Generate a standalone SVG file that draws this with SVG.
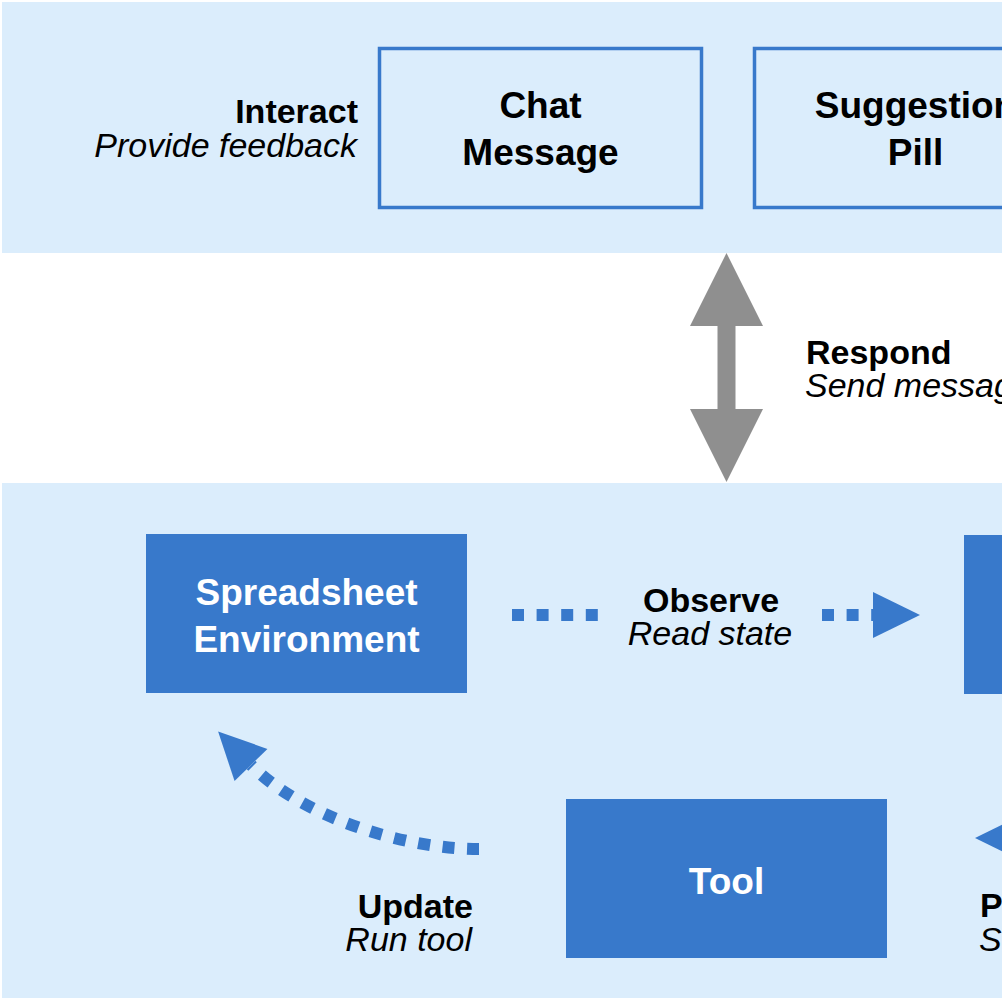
<svg xmlns="http://www.w3.org/2000/svg" width="1002" height="1002" viewBox="0 0 1002 1002">
<style>
.panel{fill:#dbedfc}
.outline{fill:#dbedfc;stroke:#3879cb;stroke-width:3.5}
.solid{fill:#3879cb}
.nl{font-family:"Liberation Sans",Arial,sans-serif;font-weight:bold;font-size:37px;text-anchor:middle;fill:#000}
.nw{fill:#fff}
.eb{font-family:"Liberation Sans",Arial,sans-serif;font-weight:bold;font-size:34px;fill:#000}
.ei{font-family:"Liberation Sans",Arial,sans-serif;font-style:italic;font-size:34px;fill:#000}
.dot{fill:none;stroke:#3879cb;stroke-width:12;stroke-dasharray:12 12.6}
</style>
<defs>
<marker id="head" markerUnits="userSpaceOnUse" markerWidth="48" markerHeight="48" refX="0" refY="23" orient="auto" overflow="visible">
<path d="M0,0 L47,23 L0,46 Z" fill="#3879cb"/>
</marker>
</defs>
<rect width="1002" height="1002" fill="#fff"/>
<g id="panel-top"><rect class="panel" x="2" y="2" width="1000" height="251"/></g>
<g id="panel-bottom"><rect class="panel" x="2" y="483" width="1000" height="515"/></g>

<g id="chat-message">
<rect class="outline" x="379.5" y="48.5" width="322" height="159"/>
<text class="nl" x="540.5" y="118">Chat</text>
<text class="nl" x="540.5" y="165">Message</text>
</g>
<g id="suggestion-pill">
<rect class="outline" x="754.5" y="48.5" width="322" height="159"/>
<text class="nl" x="915.5" y="118">Suggestion</text>
<text class="nl" x="915.5" y="165">Pill</text>
</g>
<g id="spreadsheet-environment">
<rect class="solid" x="146" y="534" width="321" height="159"/>
<text class="nl nw" x="306.5" y="605">Spreadsheet</text>
<text class="nl nw" x="306.5" y="652">Environment</text>
</g>
<g id="tool">
<rect class="solid" x="566" y="799" width="321" height="159"/>
<text class="nl nw" x="726.5" y="894">Tool</text>
</g>
<g id="right-node">
<rect class="solid" x="964" y="535" width="321" height="159"/>
</g>

<g id="connectors">
<g id="interact-label">
<text class="eb" x="358" y="123" text-anchor="end">Interact</text>
<text class="ei" x="357" y="157" text-anchor="end">Provide feedback</text>
</g>
<g id="respond">
<polygon points="726.5,253 763,326 735.5,326 735.5,409 763,409 726.5,482 690,409 717.5,409 717.5,326 690,326" fill="#8f8f8f"/>
<text class="eb" x="806" y="364">Respond</text>
<text class="ei" x="805" y="397">Send message</text>
</g>
<g id="observe">
<path class="dot" d="M512,615 H598 M822,615 H873" marker-end="url(#head)"/>
<text class="eb" x="711" y="612" text-anchor="middle">Observe</text>
<text class="ei" x="710" y="645" text-anchor="middle">Read state</text>
</g>
<g id="update">
<path class="dot" d="M479,849 C400,849 300,815 251,765" marker-end="url(#head)"/>
<text class="eb" x="473" y="918" text-anchor="end">Update</text>
<text class="ei" x="472" y="951" text-anchor="end">Run tool</text>
</g>
<g id="right-arrow">
<path class="dot" d="M1202,740 C1154,800 1070,838 1022,838" marker-end="url(#head)"/>
<text class="eb" x="980" y="917">P</text>
<text class="ei" x="979" y="951">S</text>
</g>
</g>
</svg>
